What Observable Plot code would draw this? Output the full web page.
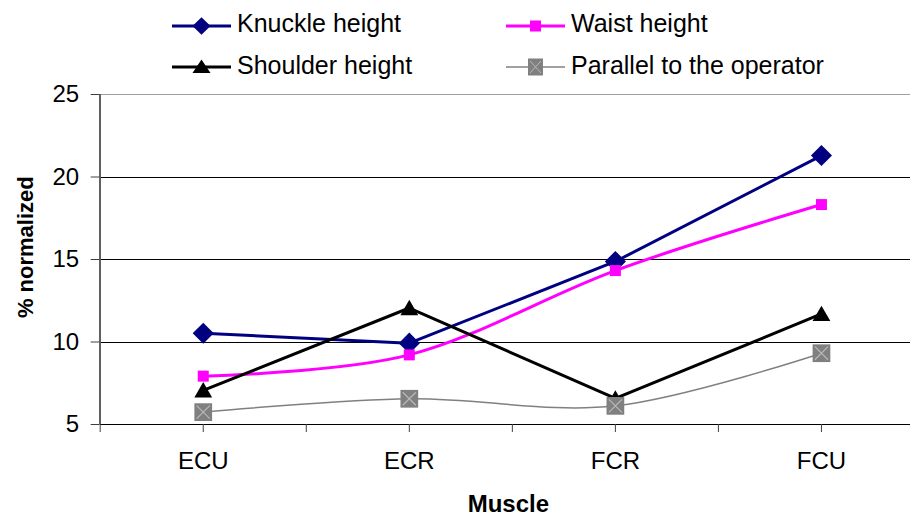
<!DOCTYPE html>
<html><head><meta charset="utf-8">
<script src="https://cdn.jsdelivr.net/npm/d3@7"></script>
<script src="https://cdn.jsdelivr.net/npm/@observablehq/plot@0.6"></script>
<style>
body{margin:0;background:#fff;font-family:Arial,"Liberation Sans",sans-serif;color:#000}
#wrap{position:relative;width:910px;height:517px;overflow:hidden}
#legend{position:relative;height:80px;width:910px}
.sw{position:absolute}
.lt{position:absolute;font-size:25px;line-height:25px;white-space:nowrap}
</style></head><body>
<div id="wrap"><div id="legend"></div><div id="chart"></div></div>
<script>
const categories = ["ECU", "ECR", "FCR", "FCU"];
const knuckle = [10.53, 9.93, 14.88, 21.3];
const waist = [7.93, 9.22, 14.33, 18.33];
const shoulder = [7.07, 12.06, 6.58, 11.7];
const parallel = [5.75, 6.56, 6.13, 9.32];
const yTicks = [5, 10, 15, 20, 25];
const seriesNames = ["Knuckle height", "Waist height", "Shoulder height", "Parallel to the operator"];

const rows = (vals) => categories.map((c, i) => ({pos: i + 0.5, cat: c, v: vals[i]}));
const K = rows(knuckle), W = rows(waist), S = rows(shoulder), P = rows(parallel);

// Legend (HTML)
const legendSpec = [
  {name: seriesNames[0], left: 172, lineY: 25.7, capY: 23, color: "#000080", sw: 3, mk: "diamond"},
  {name: seriesNames[1], left: 506, lineY: 25.7, capY: 23, color: "#ff00ff", sw: 3, mk: "square"},
  {name: seriesNames[2], left: 172, lineY: 67, capY: 64.7, color: "#000000", sw: 3, mk: "triangle"},
  {name: seriesNames[3], left: 506, lineY: 67, capY: 64.7, color: "#808080", sw: 1.5, mk: "xsquare"}
];
const leg = document.getElementById("legend");
for (const s of legendSpec) {
  let m = "";
  if (s.mk === "diamond") m = `<path d="M29.5,4.2 L38.5,13 L29.5,21.8 L20.5,13Z" fill="${s.color}"/>`;
  if (s.mk === "square") m = `<rect x="24" y="7.5" width="11" height="11" fill="${s.color}"/>`;
  if (s.mk === "triangle") m = `<path d="M29.5,5.5 L38.5,19 L20.5,19Z" fill="${s.color}"/>`;
  if (s.mk === "xsquare") m = `<rect x="22" y="4.5" width="15" height="17" fill="${s.color}"/><path d="M24,7 L35,19 M35,7 L24,19" stroke="#b8b8b8" stroke-width="1"/>`;
  leg.insertAdjacentHTML("beforeend",
    `<svg class="sw" style="left:${s.left}px;top:${s.lineY - 13}px" width="59" height="26"><line x1="0" x2="59" y1="13" y2="13" stroke="${s.color}" stroke-width="${s.sw}"/>${m}</svg>` +
    `<span class="lt" style="left:${s.left + 65}px;top:${s.capY - 12.2}px">${s.name}</span>`);
}

const chart = Plot.plot({
  width: 910,
  height: 437,
  marginTop: 14,
  marginBottom: 93,
  marginLeft: 99.7,
  marginRight: -14,
  style: {fontFamily: "Arial, 'Liberation Sans', sans-serif", fontSize: "24px", color: "#000", background: "#fff", overflow: "visible"},
  x: {type: "linear", domain: [0, 4]},
  y: {domain: [5, 25]},
  marks: [
    Plot.ruleY([10, 15, 20], {stroke: "#000", strokeWidth: 1, shapeRendering: "crispEdges"}),
    Plot.ruleY([25], {stroke: "#a0a0a0", strokeWidth: 1.5, shapeRendering: "crispEdges"}),
    Plot.ruleY([5], {stroke: "#000", strokeWidth: 1, shapeRendering: "crispEdges"}),
    Plot.ruleX([0], {stroke: "#606060", strokeWidth: 1.5, shapeRendering: "crispEdges"}),
    Plot.axisY({ticks: yTicks, tickSize: 9, tickPadding: 12, fontSize: 24, label: null, stroke: "#404040"}),
    Plot.axisX({ticks: [0, 0.5, 1, 1.5, 2, 2.5, 3, 3.5, 4], tickFormat: () => "", tickSize: 8, label: null, stroke: "#404040"}),
    Plot.axisX({ticks: categories.map((c, i) => i + 0.5), tickFormat: d => categories[Math.round(d - 0.5)], tickSize: 0, tickPadding: 27, fontSize: 24, label: null}),
    // Knuckle
    Plot.line(K, {x: "pos", y: "v", stroke: "#000080", strokeWidth: 3}),
    Plot.dot(K, {x: "pos", y: "v", symbol: "diamond2", r: 9.5, fill: "#000080", stroke: "none"}),
    // Waist
    Plot.line(W, {x: "pos", y: "v", stroke: "#ff00ff", strokeWidth: 3, curve: "cardinal"}),
    Plot.dot(W, {x: "pos", y: "v", symbol: "square", r: 6.2, fill: "#ff00ff", stroke: "none"}),
    // Shoulder
    Plot.line(S, {x: "pos", y: "v", stroke: "#000", strokeWidth: 3}),
    Plot.dot(S, {x: "pos", y: "v", symbol: "triangle", r: 6.6, fill: "#000", stroke: "none", dy: 2}),
    // Parallel
    Plot.line(P, {x: "pos", y: "v", stroke: "#808080", strokeWidth: 1.5, curve: "cardinal"}),
    Plot.dot(P, {x: "pos", y: "v", symbol: "square", r: 10, fill: "#808080", stroke: "none"}),
    Plot.dot(P, {x: "pos", y: "v", symbol: "times", r: 6, stroke: "#b8b8b8", strokeWidth: 1.2}),
    // Axis titles
    Plot.text(["Muscle"], {frameAnchor: "bottom", lineAnchor: "middle", textAnchor: "middle", dx: -4, dy: 80, fontWeight: "bold", fontSize: 24}),
    Plot.text(["% normalized"], {frameAnchor: "left", lineAnchor: "middle", textAnchor: "middle", dx: -74.7, dy: -12.3, rotate: -90, fontWeight: "bold", fontSize: 22})
  ]
});
document.getElementById("chart").appendChild(chart);
</script>
</body></html>
